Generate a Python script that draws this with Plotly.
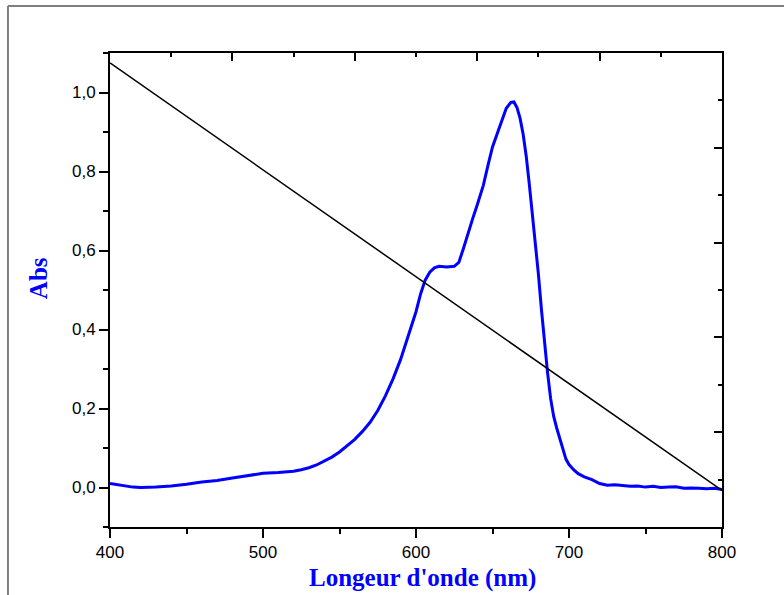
import plotly.graph_objects as go

# Blue absorption spectrum
wavelength = [400, 405, 410, 415, 420, 425, 430, 440, 450, 460, 470, 480, 490, 500, 510, 520, 525,
              530, 535, 540, 545, 550, 555, 560, 565, 570, 575, 580, 585, 590, 595, 600, 603, 606,
              609, 612, 615, 620, 625, 628, 631, 634, 637, 640, 644, 647, 650, 653, 656, 659, 662,
              664, 666, 668, 670, 672, 674, 676, 678, 680, 682, 684, 686, 688, 690, 692, 694, 696,
              698, 700, 703, 706, 710, 715, 720, 725, 730, 735, 740, 745, 750, 755, 760, 765, 770,
              775, 780, 785, 790, 795, 800]
absorbance = [0.010, 0.007, 0.004, 0.001, 0.000, 0.000, 0.001, 0.004, 0.008, 0.014, 0.018, 0.024,
              0.030, 0.036, 0.038, 0.041, 0.045, 0.050, 0.057, 0.066, 0.077, 0.090, 0.105, 0.122,
              0.142, 0.165, 0.195, 0.232, 0.275, 0.325, 0.385, 0.445, 0.490, 0.525, 0.545, 0.556,
              0.560, 0.558, 0.560, 0.570, 0.605, 0.645, 0.680, 0.715, 0.765, 0.815, 0.862, 0.895,
              0.928, 0.960, 0.975, 0.976, 0.962, 0.935, 0.895, 0.840, 0.770, 0.695, 0.630, 0.540,
              0.450, 0.365, 0.290, 0.225, 0.180, 0.150, 0.125, 0.095, 0.072, 0.058, 0.045, 0.035,
              0.027, 0.020, 0.010, 0.006, 0.007, 0.005, 0.003, 0.004, 0.001, 0.003, 0.000, 0.001,
              0.002, -0.002, -0.001, -0.002, -0.003, -0.002, -0.005]

# Black straight line on the second (top/right) layer
line2_x = [0.0, 1.0]
line2_y = [0.979, 0.077]

x_title = "Longeur d'onde (nm)"
y_title = "Abs"

fig = go.Figure()
fig.add_trace(go.Scatter(x=wavelength, y=absorbance, mode="lines",
                         line=dict(color="#0000FF", width=3), showlegend=False,
                         hoverinfo="skip"))
fig.add_trace(go.Scatter(x=line2_x, y=line2_y, mode="lines", xaxis="x2", yaxis="y2",
                         line=dict(color="black", width=1.5), showlegend=False,
                         hoverinfo="skip"))

tickfont = dict(family="Liberation Sans, Arial", size=17, color="black")
titlefont = dict(family="Liberation Serif, Times New Roman", size=25, color="#0000FF")

fig.update_layout(
    width=784, height=595,
    margin=dict(l=110, r=62, t=53, b=68),
    paper_bgcolor="white", plot_bgcolor="white",
    separators=",.",
    xaxis=dict(range=[400, 800], showline=True, linecolor="black", linewidth=2,
               ticks="outside", ticklen=9, tickwidth=2, tickcolor="black",
               tick0=400, dtick=100, showgrid=False, zeroline=False,
               minor=dict(ticks="outside", ticklen=5, tickwidth=2, dtick=50,
                          tickcolor="black", showgrid=False),
               tickfont=tickfont, mirror=False),
    yaxis=dict(range=[-0.1, 1.1], showline=True, linecolor="black", linewidth=2,
               ticks="outside", ticklen=9, tickwidth=2, tickcolor="black",
               tick0=0, dtick=0.2, tickformat=".1f", showgrid=False, zeroline=False,
               minor=dict(ticks="outside", ticklen=5, tickwidth=2, dtick=0.1,
                          tickcolor="black", showgrid=False),
               tickfont=tickfont, mirror=False),
    xaxis2=dict(overlaying="x", side="top", range=[0, 1], showline=True,
                linecolor="black", linewidth=2, ticks="inside", ticklen=8, tickwidth=2,
                tickcolor="black", tick0=0, dtick=0.2, showticklabels=False,
                showgrid=False, zeroline=False,
                minor=dict(ticks="inside", ticklen=4, tickwidth=2, dtick=0.1,
                           tickcolor="black", showgrid=False)),
    yaxis2=dict(overlaying="y", side="right", range=[0, 1], showline=True,
                linecolor="black", linewidth=2, ticks="inside", ticklen=8, tickwidth=2,
                tickcolor="black", tick0=0, dtick=0.2, showticklabels=False,
                showgrid=False, zeroline=False,
                minor=dict(ticks="inside", ticklen=4, tickwidth=2, dtick=0.1,
                           tickcolor="black", showgrid=False)),
    annotations=[
        dict(text="<b>" + y_title + "</b>", xref="paper", yref="paper",
             x=-0.1176, y=0.525, textangle=-90, showarrow=False,
             font=titlefont, xanchor="center", yanchor="middle"),
        dict(text="<b>" + x_title + "</b>", xref="paper", yref="paper",
             x=0.51, y=-0.1076, showarrow=False,
             font=titlefont, xanchor="center", yanchor="middle"),
    ],
    shapes=[
        dict(type="line", xref="paper", yref="paper", x0=-0.1667, x1=1.2,
             y0=1.0992, y1=1.0992, line=dict(color="#7f7f7f", width=2)),
        dict(type="line", xref="paper", yref="paper", x0=-0.1667, x1=-0.1667,
             y0=1.0992, y1=-0.2, line=dict(color="#7f7f7f", width=2)),
    ],
)

fig.write_html("out.html")
